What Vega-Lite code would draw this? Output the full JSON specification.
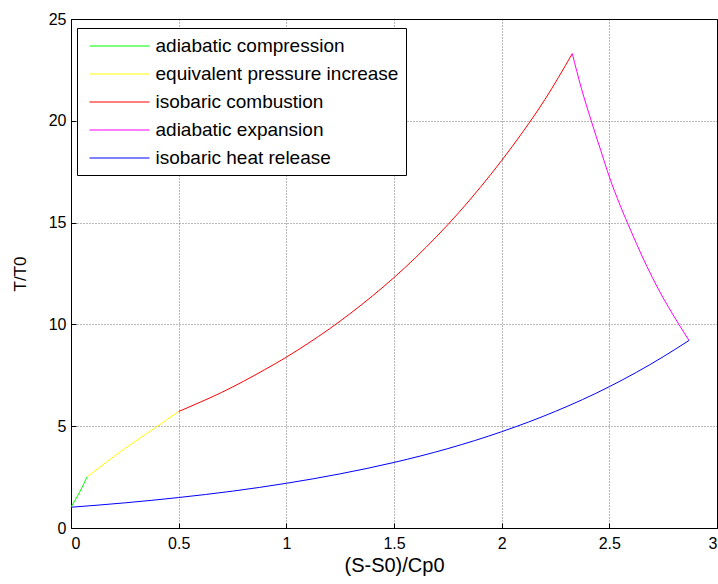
{
  "$schema": "https://vega.github.io/schema/vega-lite/v6.json",
  "autosize": "none",
  "width": 646,
  "height": 509,
  "padding": {"left": 71, "top": 19, "right": 1, "bottom": 56},
  "background": "white",
  "config": {
    "font": "Liberation Sans",
    "view": {"stroke": "black", "strokeWidth": 1},
    "axis": {
      "domain": false,
      "gridColor": "#000000",
      "gridDash": [1, 2],
      "gridOpacity": 0.55,
      "gridWidth": 1,
      "tickColor": "#000000",
      "tickSize": -5,
      "labelFontSize": 16,
      "labelColor": "#000000",
      "labelFont": "Liberation Sans",
      "titleFont": "Liberation Sans",
      "titleFontWeight": "normal",
      "titleColor": "#000000"
    }
  },
  "data": {
    "values": [
      {"s": 0.0, "t": 1.02, "process": "adiabatic compression"},
      {"s": 0.02, "t": 1.38, "process": "adiabatic compression"},
      {"s": 0.04, "t": 1.76, "process": "adiabatic compression"},
      {"s": 0.06, "t": 2.18, "process": "adiabatic compression"},
      {"s": 0.075, "t": 2.52, "process": "adiabatic compression"},
      {"s": 0.075, "t": 2.52, "process": "equivalent pressure increase"},
      {"s": 0.1, "t": 2.72, "process": "equivalent pressure increase"},
      {"s": 0.15, "t": 3.12, "process": "equivalent pressure increase"},
      {"s": 0.2, "t": 3.52, "process": "equivalent pressure increase"},
      {"s": 0.25, "t": 3.9, "process": "equivalent pressure increase"},
      {"s": 0.3, "t": 4.27, "process": "equivalent pressure increase"},
      {"s": 0.35, "t": 4.63, "process": "equivalent pressure increase"},
      {"s": 0.4, "t": 4.99, "process": "equivalent pressure increase"},
      {"s": 0.45, "t": 5.36, "process": "equivalent pressure increase"},
      {"s": 0.5, "t": 5.72, "process": "equivalent pressure increase"},
      {"s": 0.5, "t": 5.72, "process": "isobaric combustion"},
      {"s": 0.6, "t": 6.18, "process": "isobaric combustion"},
      {"s": 0.7, "t": 6.66, "process": "isobaric combustion"},
      {"s": 0.8, "t": 7.2, "process": "isobaric combustion"},
      {"s": 0.9, "t": 7.78, "process": "isobaric combustion"},
      {"s": 1.0, "t": 8.39, "process": "isobaric combustion"},
      {"s": 1.1, "t": 9.06, "process": "isobaric combustion"},
      {"s": 1.2, "t": 9.78, "process": "isobaric combustion"},
      {"s": 1.3, "t": 10.56, "process": "isobaric combustion"},
      {"s": 1.4, "t": 11.4, "process": "isobaric combustion"},
      {"s": 1.5, "t": 12.3, "process": "isobaric combustion"},
      {"s": 1.6, "t": 13.28, "process": "isobaric combustion"},
      {"s": 1.7, "t": 14.34, "process": "isobaric combustion"},
      {"s": 1.8, "t": 15.48, "process": "isobaric combustion"},
      {"s": 1.9, "t": 16.72, "process": "isobaric combustion"},
      {"s": 2.0, "t": 18.05, "process": "isobaric combustion"},
      {"s": 2.1, "t": 19.48, "process": "isobaric combustion"},
      {"s": 2.2, "t": 21.03, "process": "isobaric combustion"},
      {"s": 2.328, "t": 23.3, "process": "isobaric combustion"},
      {"s": 2.328, "t": 23.3, "process": "adiabatic expansion"},
      {"s": 2.37, "t": 21.6, "process": "adiabatic expansion"},
      {"s": 2.416, "t": 20.0, "process": "adiabatic expansion"},
      {"s": 2.46, "t": 18.55, "process": "adiabatic expansion"},
      {"s": 2.5, "t": 17.25, "process": "adiabatic expansion"},
      {"s": 2.55, "t": 15.85, "process": "adiabatic expansion"},
      {"s": 2.6, "t": 14.6, "process": "adiabatic expansion"},
      {"s": 2.65, "t": 13.4, "process": "adiabatic expansion"},
      {"s": 2.7, "t": 12.3, "process": "adiabatic expansion"},
      {"s": 2.75, "t": 11.3, "process": "adiabatic expansion"},
      {"s": 2.8, "t": 10.4, "process": "adiabatic expansion"},
      {"s": 2.823, "t": 10.0, "process": "adiabatic expansion"},
      {"s": 2.87, "t": 9.21, "process": "adiabatic expansion"},
      {"s": 0.0, "t": 1.02, "process": "isobaric heat release"},
      {"s": 0.25, "t": 1.235, "process": "isobaric heat release"},
      {"s": 0.5, "t": 1.497, "process": "isobaric heat release"},
      {"s": 0.75, "t": 1.81, "process": "isobaric heat release"},
      {"s": 1.0, "t": 2.196, "process": "isobaric heat release"},
      {"s": 1.25, "t": 2.66, "process": "isobaric heat release"},
      {"s": 1.5, "t": 3.22, "process": "isobaric heat release"},
      {"s": 1.75, "t": 3.9, "process": "isobaric heat release"},
      {"s": 2.0, "t": 4.73, "process": "isobaric heat release"},
      {"s": 2.25, "t": 5.73, "process": "isobaric heat release"},
      {"s": 2.5, "t": 6.94, "process": "isobaric heat release"},
      {"s": 2.75, "t": 8.41, "process": "isobaric heat release"},
      {"s": 2.87, "t": 9.21, "process": "isobaric heat release"}
    ]
  },
  "mark": {"type": "line", "strokeWidth": 1, "interpolate": "monotone"},
  "encoding": {
    "x": {
      "field": "s",
      "type": "quantitative",
      "scale": {"domain": [0, 3], "nice": false, "zero": false},
      "axis": {"values": [0, 0.5, 1, 1.5, 2, 2.5, 3], "format": "~g", "title": "(S-S0)/Cp0", "titleFontSize": 20, "titlePadding": 4, "labelPadding": 12}
    },
    "y": {
      "field": "t",
      "type": "quantitative",
      "scale": {"domain": [0, 25], "nice": false},
      "axis": {"values": [0, 5, 10, 15, 20, 25], "title": "T/T0", "titleFontSize": 17, "titlePadding": 19, "labelPadding": 10}
    },
    "color": {
      "field": "process",
      "type": "nominal",
      "scale": {
        "domain": ["adiabatic compression", "equivalent pressure increase", "isobaric combustion", "adiabatic expansion", "isobaric heat release"],
        "range": ["#00ff00", "#ffff00", "#ff0000", "#ff00ff", "#0000ff"]
      },
      "legend": {
        "title": null,
        "orient": "none",
        "legendX": 6,
        "legendY": 9,
        "fillColor": "white",
        "strokeColor": "black",
        "padding": 7,
        "symbolType": "M-3,0H3",
        "symbolSize": 400,
        "symbolStrokeWidth": 1,
        "symbolOffset": 24.5,
        "symbolOpacity": 1,
        "symbolFillColor": "transparent",
        "labelFontSize": 19,
        "labelFont": "Liberation Sans",
        "labelColor": "#000000",
        "labelOffset": 25,
        "rowPadding": 7,
        "labelLimit": 400,
        "encode": {
          "symbols": {
            "enter": {
              "stroke": {"scale": "color", "field": "value"},
              "fill": {"value": "transparent"}
            },
            "update": {
              "stroke": {"scale": "color", "field": "value"},
              "fill": {"value": "transparent"},
              "strokeWidth": {"value": 1.2},
              "strokeOpacity": {"value": 1},
              "opacity": {"value": 1}
            }
          }
        }
      }
    }
  }
}
